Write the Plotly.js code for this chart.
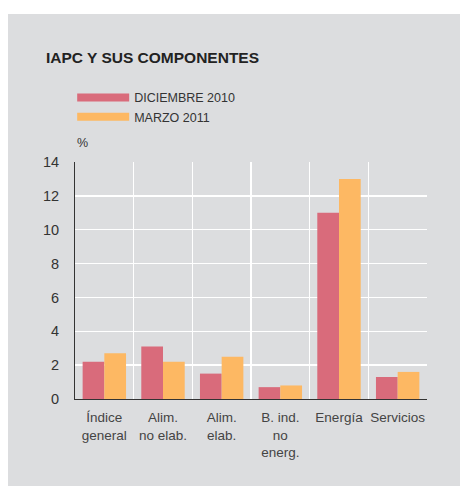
<!DOCTYPE html>
<html>
<head>
<meta charset="utf-8">
<script src="https://cdn.plot.ly/plotly-3.0.1.min.js"></script>
<style>
  html, body { margin: 0; padding: 0; background: #ffffff; }
  #chart { width: 460px; height: 486px; }
</style>
</head>
<body>
<div id="chart"></div>
<script>
// Categories and series values (annual % change)
const categories = ['Índice<br>general', 'Alim.<br>no elab.', 'Alim.<br>elab.', 'B. ind.<br>no<br>energ.', 'Energía', 'Servicios'];
const dic2010 = [2.2, 3.1, 1.5, 0.7, 11.0, 1.3];
const mar2011 = [2.7, 2.2, 2.5, 0.8, 13.0, 1.6];
const seriesNames = ['DICIEMBRE 2010', 'MARZO 2011'];
const yTicks = [0, 2, 4, 6, 8, 10, 12, 14];

const RED = '#d96b7b';
const ORANGE = '#fdb863';
const PANEL = '#dcdddf';
const TEXT = '#333333';

const bars = [
    { x: categories, y: dic2010, type: 'bar', marker: { color: RED }, showlegend: false, hoverinfo: 'y' },
    { x: categories, y: mar2011, type: 'bar', marker: { color: ORANGE }, showlegend: false, hoverinfo: 'y' }
];

// Legend-only entries drawn as wide thick lines, like the reference keys
const keys = [
    { x: [null], y: [null], type: 'scatter', mode: 'lines', name: seriesNames[0], line: { color: RED, width: 8 } },
    { x: [null], y: [null], type: 'scatter', mode: 'lines', name: seriesNames[1], line: { color: ORANGE, width: 8 } }
];

const layout = {
    width: 460,
    height: 486,
    margin: { l: 75, r: 33, t: 162, b: 87 },
    paper_bgcolor: '#ffffff',
    plot_bgcolor: PANEL,
    font: { family: 'Liberation Sans, Arial, sans-serif', color: TEXT, size: 13 },
    barmode: 'group',
    bargap: 0.26,
    bargroupgap: 0,
    title: {
        text: '<b>IAPC Y SUS COMPONENTES</b>',
        font: { size: 15.5, color: '#222222' },
        x: 46 / 460, xref: 'container', xanchor: 'left',
        y: 1 - 58 / 486, yref: 'container', yanchor: 'middle'
    },
    showlegend: true,
    legend: {
        x: -0.008, y: 1.127, xref: 'paper', yref: 'paper',
        xanchor: 'left', yanchor: 'bottom',
        itemwidth: 52,
        bgcolor: 'rgba(0,0,0,0)',
        font: { size: 12.5, color: TEXT },
        tracegroupgap: 0
    },
    xaxis: {
        type: 'category',
        tickson: 'boundaries',
        tickangle: 0,
        ticklabelstandoff: 6,
        showgrid: true,
        gridcolor: '#ffffff',
        gridwidth: 1.5,
        ticks: '',
        showline: true,
        linecolor: '#333333',
        linewidth: 1,
        tickfont: { size: 13.5, color: '#444444' },
        fixedrange: true
    },
    yaxis: {
        range: [0, 14],
        tickvals: yTicks,
        ticklabelstandoff: 12,
        showgrid: true,
        gridcolor: '#ffffff',
        gridwidth: 1.5,
        zeroline: false,
        showline: true,
        linecolor: '#333333',
        linewidth: 1,
        ticks: '',
        tickfont: { size: 14.5, color: '#333333' },
        fixedrange: true
    },
    shapes: [
        // grey panel behind the whole figure
        { type: 'rect', xref: 'paper', yref: 'paper', x0: -0.1903, x1: 1.2, y0: -0.4, y1: 1.6245,
          fillcolor: PANEL, line: { width: 0 }, layer: 'below' }
    ],
    annotations: [
        { text: '%', xref: 'paper', yref: 'paper', x: 0, y: 1.08, xanchor: 'left', yanchor: 'middle',
          showarrow: false, font: { size: 12.5, color: TEXT } }
    ]
};

Plotly.newPlot('chart', bars.concat(keys), layout, { displayModeBar: false, staticPlot: true });
</script>
</body>
</html>
